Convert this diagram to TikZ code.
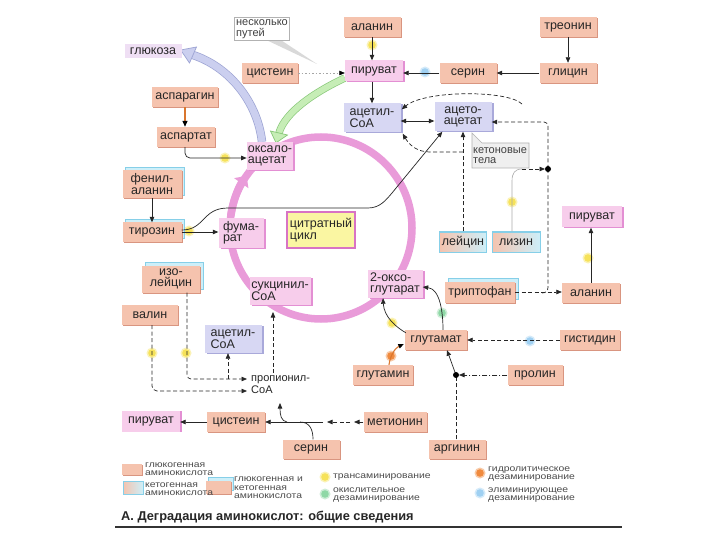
\documentclass[tikz,border=0pt]{standalone}
\usepackage{fontspec}
\setmainfont{Liberation Sans}
\newfontfamily\legfont[FakeStretch=1.18]{Liberation Sans}
\usetikzlibrary{arrows.meta,shadows,calc,backgrounds}
\definecolor{salm}{HTML}{F5C3AE}
\definecolor{salmD}{HTML}{D99580}
\definecolor{pinkL}{HTML}{F7CDEB}
\definecolor{pinkD}{HTML}{E38FD3}
\definecolor{lav}{HTML}{D7D7F3}
\definecolor{lavD}{HTML}{A9A9DA}
\definecolor{cyanL}{HTML}{CDEFF9}
\definecolor{cyanD}{HTML}{86CFE8}
\definecolor{cycC}{HTML}{E99BD9}
\definecolor{citY}{HTML}{FAF6A2}
\definecolor{citB}{HTML}{D873C4}
\definecolor{glucL}{HTML}{CBCFEF}
\definecolor{glucD}{HTML}{9CA3D3}
\definecolor{grnL}{HTML}{C6EDB6}
\definecolor{grnD}{HTML}{88C879}
\definecolor{dotY}{HTML}{F6E25A}
\definecolor{dotG}{HTML}{8FD8A6}
\definecolor{dotO}{HTML}{F08A3E}
\definecolor{dotB}{HTML}{9FD0F2}
\definecolor{orgA}{HTML}{D9762E}
\definecolor{callF}{HTML}{EFEFEF}
\newcommand\bxf{\fontsize{12.5}{11.5}\selectfont}
\newcommand\smf{\fontsize{11}{10.5}\selectfont}
\newcommand\prf{\fontsize{11}{12}\selectfont}
\newcommand\lgf{\legfont\fontsize{8.8}{8.6}\selectfont}
\newcommand\ttlf{\fontsize{12.8}{13}\selectfont\bfseries}
\tikzset{
  bx/.style={inner sep=1pt, minimum height=20pt, font=\bxf, align=center, text=black!85},
  glc/.style={bx, fill=salm, drop shadow={shadow xshift=1.3pt, shadow yshift=-1.3pt, fill=salmD, opacity=1}},
  pnk/.style={bx, fill=pinkL, drop shadow={shadow xshift=2pt, shadow yshift=-0.6pt, fill=pinkD, opacity=1}},
  lvd/.style={bx, fill=lav, drop shadow={shadow xshift=2pt, shadow yshift=-0.8pt, fill=lavD, opacity=1}},
  gk/.style={bx, fill=salm, copy shadow={shadow xshift=3pt, shadow yshift=3pt, fill=cyanL, draw=cyanD, line width=0.8pt}, drop shadow={shadow xshift=1.3pt, shadow yshift=-1.3pt, fill=salmD, opacity=1}},
  ktg/.style={bx, left color=salm, right color=cyanL, draw=cyanD, line width=1pt},
  cal/.style={inner sep=1.5pt, font=\smf, align=left, text=black!75, fill=white, draw=gray!60, line width=0.6pt},
  ln/.style={line width=0.7pt, black!85},
  dsh/.style={ln, dash pattern=on 4pt off 2.5pt},
  dshdot/.style={ln, dash pattern=on 5pt off 2pt on 1pt off 2pt},
  dotl/.style={line width=0.6pt, gray!70, dash pattern=on 1.5pt off 2pt},
  lgt/.style={font=\lgf, align=left, anchor=west, inner sep=0pt, text=black!70},
  blk/.style={-{Triangle[length=5.5pt,width=4.5pt,color=black]}}
}
\begin{document}
\begin{tikzpicture}[x=1pt,y=-1pt,>={Triangle[length=5.5pt,width=4.5pt]}]
\useasboundingbox (0,0) rectangle (720,540);
% ---------- nodes
\node[cal, minimum width=54pt, minimum height=23pt] (nesk) at (262,29) {несколько\\путей};
\node[glc, minimum width=57pt] (alaT) at (372,27) {аланин};
\node[glc, minimum width=57pt] (treo) at (568,27) {треонин};
\node[bx, fill=pinkL!55!lav!70!white, minimum width=57pt, minimum height=14pt] (gluc) at (153,51) {глюкоза};
\node[glc, minimum width=56pt] (cysT) at (270,73) {цистеин};
\node[pnk, minimum width=58pt, minimum height=21pt] (pyrT) at (374,71) {пируват};
\node[glc, minimum width=57pt] (serT) at (468,73) {серин};
\node[glc, minimum width=57pt] (gly) at (568,73) {глицин};
\node[glc, minimum width=66pt] (asn) at (185,97) {аспарагин};
\node[lvd, align=left, minimum width=57pt, minimum height=29pt] (acCoA) at (372,118) {ацетил-\\CoA};
\node[lvd, minimum width=57pt, minimum height=29pt] (acac) at (463,117) {ацето-\\ацетат};
\node[glc, minimum width=58pt] (asp) at (186,137) {аспартат};
\node[pnk, align=left, minimum width=46pt, minimum height=28pt] (oxa) at (270,156) {оксало-\\ацетат};
\filldraw[fill=callF, draw=gray!60, line width=0.6pt] (472,133) -- (482,143) -- (529,143) -- (529,168) -- (472,168) -- cycle;
\node[font=\smf, align=left, text=black!75, inner sep=0pt] (keto) at (500,155.5) {кетоновые\\тела};
\node[gk, minimum width=59pt, minimum height=28pt] (phe) at (152,184) {фенил-\\аланин};
\node[gk, minimum width=59pt, minimum height=19pt] (tyr) at (152,232) {тирозин};
\node[pnk, align=left, minimum width=45pt, minimum height=30pt] (fum) at (241,233) {фума-\\рат};
\node[bx, fill=citY, draw=citB, line width=1.2pt, align=left, minimum width=68pt, minimum height=36pt] (cit) at (321,230) {цитратный\\цикл};
\node[pnk, minimum width=60pt, minimum height=21pt] (pyrR) at (592,217) {пируват};
\node[ktg, minimum width=47pt] (leu) at (463,242) {лейцин};
\node[ktg, minimum width=48pt] (lys) at (516,242) {лизин};
\node[gk, minimum width=58pt, minimum height=27pt] (ile) at (171,279) {изо-\\лейцин};
\node[pnk, align=left, minimum width=61pt, minimum height=28pt] (suc) at (280,291) {сукцинил-\\CoA};
\node[pnk, align=left, minimum width=55pt, minimum height=28pt] (oxg) at (395,284) {2-оксо-\\глутарат};
\node[gk, minimum width=70pt, minimum height=21pt] (trp) at (480,292) {триптофан};
\node[glc, minimum width=58pt] (alaR) at (591,293) {аланин};
\node[glc, minimum width=56pt] (val) at (150,315) {валин};
\node[lvd, align=left, minimum width=57pt, minimum height=28pt] (acCoA2) at (233,339) {ацетил-\\CoA};
\node[glc, minimum width=62pt] (glu) at (436,340) {глутамат};
\node[glc, minimum width=60pt] (his) at (590,340) {гистидин};
\node[glc, minimum width=60pt] (gln) at (383,375) {глутамин};
\node[glc, minimum width=55pt] (pro) at (535,375) {пролин};
\node[font=\prf, align=left, anchor=west, inner sep=1pt, text=black!85] (prop) at (250,385) {пропионил-\\CoA};
\node[pnk, minimum width=58pt, minimum height=21pt] (pyrB) at (151,421) {пируват};
\node[glc, minimum width=58pt] (cysB) at (236,422) {цистеин};
\node[glc, minimum width=63pt] (met) at (395,422) {метионин};
\node[glc, minimum width=57pt, minimum height=19pt] (serB) at (311,449) {серин};
\node[glc, minimum width=57pt, minimum height=19pt] (arg) at (457,449) {аргинин};
\coordinate (dot1) at (548,169);
\coordinate (dot2) at (456,375);
% ---------- background: circle, dots, bands
\begin{pgfonlayer}{background}
\fill[white] (0,0) rectangle (720,540);
\fill[gray!30] ($(nesk.south)+(6,0)$) -- ($(nesk.south)+(20,0)$) -- (317,64) -- cycle;
\draw[cycC, line width=7.5pt] (321,228) circle[radius=91];
\draw[cycC, line width=7.5pt, -{Triangle[length=9pt,width=17pt]}] (321,228) ++(-172:91) arc[start angle=-172, end angle=-145, radius=91];
\foreach \x/\y in {372/45, 225/158, 189/231, 512/202, 588/258, 392/323, 186/353, 152/353, 325/477}
  {\fill[dotY!45] (\x,\y) circle[radius=5.5pt]; \fill[dotY] (\x,\y) circle[radius=3.8pt];}
\foreach \x/\y in {442/313, 325/494}
  {\fill[dotG!45] (\x,\y) circle[radius=5.5pt]; \fill[dotG] (\x,\y) circle[radius=3.8pt];}
\foreach \x/\y in {425/72, 530/341, 480/493}
  {\fill[dotB!45] (\x,\y) circle[radius=5.5pt]; \fill[dotB] (\x,\y) circle[radius=3.8pt];}
\foreach \x/\y in {391/356, 480/473}
  {\fill[dotO!45] (\x,\y) circle[radius=5.5pt]; \fill[dotO] (\x,\y) circle[radius=3.8pt];}
% glucose band
\draw[draw=glucD, double=glucL, double distance=7pt, line width=0.7pt] ($(oxa.north)+(-8,0)$) .. controls (258,105) and (232,68) .. (193,55);
\filldraw[fill=glucL, draw=glucD, line width=0.7pt] (196.5,47) -- ($(gluc.east)+(-1,-1)$) -- (189.5,63) -- cycle;
% green band
\draw[draw=grnD, double=grnL, double distance=6pt, line width=0.7pt] ($(pyrT.west)+(0,7)$) .. controls (315,92) and (285,112) .. (279,133);
\filldraw[fill=grnL, draw=grnD, line width=0.7pt] (287.5,135) -- ($(oxa.north)+(6,1)$) -- (270.5,131) -- cycle;
\end{pgfonlayer}
% ---------- connectors
\draw[ln,->] (alaT.south) -- (alaT.south |- pyrT.north);
\draw[ln,->] (treo) -- (gly);
\draw[ln,->] (gly) -- (serT);
\draw[ln,->] (serT.west) -- (serT.west -| pyrT.east);
\draw[dotl,blk] (cysT.east) -- (cysT.east -| pyrT.west);
\draw[ln,->] (acCoA.north |- pyrT.south) -- (acCoA.north);
\draw[ln,<->] ($(acCoA.east)+(0,3)$) -- ($(acac.west)+(0,4)$);
\draw[orgA, line width=1.3pt, -{Triangle[length=6pt,width=5pt,color=black]}] (asn.south) -- (asn.south |- asp.north);
\draw[ln,->,rounded corners=5pt] ($(asp.south)+(-1,0)$) |- ($(oxa.west)+(0,2)$);
\draw[ln,->] (phe) -- (tyr);
\draw[ln,->] (tyr.east) -- (tyr.east -| fum.west);
\draw[ln,->] ($(tyr.east)+(0,-2)$) .. controls (205,230) and (202,208) .. (228,208) -- (368,208) .. controls (380,208) and (386,200) .. (392,193) -- ($(acac.south west)+(8,0)$);
% isoleucine, valine -> propionyl-CoA
\coordinate (i1) at ($(ile.south)+(16,0)$);
\coordinate (pA) at (247,379);
\coordinate (pB) at (247,391);
\coordinate (i3) at (228,379);
\draw[dsh,->,rounded corners=4pt] (i1) |- (pA);
\draw[dsh,->] (i3) -- (i3 |- acCoA2.south);
\draw[dsh,->,rounded corners=5pt] ($(val.south)+(2,0)$) |- (pB);
\coordinate (s1) at (273,373);
\coordinate (s2) at (273,312);
\draw[dsh,->] (s1) -- (s2);
% methionine, serine -> cysteine -> pyruvate
\coordinate (m1) at (354,422);
\coordinate (m2) at (350,422);
\coordinate (m3) at (327,422);
\coordinate (m4) at (323,422);
\draw[dsh,->] (met.west) -- (m1);
\draw[dsh,->] (m2) -- (m3);
\draw[ln,->] (m4) -- (cysB.east);
\draw[ln] ($(serB.north)+(2,0)$) .. controls (313,430) and (310,422) .. (300,422);
\draw[ln,->] (287,422) .. controls (281,421) and (280,415) .. (280,403);
\draw[ln,->] (cysB.west) -- (cysB.west -| pyrB.east);
% glutamate region
\draw[orgA, line width=1.1pt, blk] ($(gln.north)+(6,0)$) .. controls (390,356) and (395,348) .. ($(glu.west)+(-1,4)$);
\draw[ln,->] ($(glu.north)+(7,0)$) .. controls (443,312) and (440,289) .. ($(oxg.east)+(0,3)$);
\draw[ln,->] ($(glu.north west)+(1,3)$) .. controls (396,327) and (384,317) .. ($(oxg.south)+(-12,0)$);
\draw[dsh,->] (his.west) -- (glu.east);
\draw[dshdot,->,shorten >=3pt] (pro.west) -- (dot2);
\draw[dsh] (arg.north -| dot2) -- (dot2);
\draw[ln,->] (dot2) -- ($(glu.south)+(11,0)$);
\fill (dot2) circle[radius=3pt];
% right side
\draw[ln,->] (alaR.north) -- (alaR.north |- pyrR.south);
\draw[dsh,->] (trp.east) -- (trp.east -| alaR.west);
\draw[dsh] (dot1) -- (548,287) .. controls (548,291) and (546,293) .. (542,293);
\draw[gray!65, line width=0.6pt] ($(lys.north)+(-4,0)$) -- (512,181) .. controls (512,173) and (515,169) .. (522,169);
\draw[dsh,->,shorten >=3pt] (522,169) -- (dot1);
\draw[dsh,->,rounded corners=4pt] (dot1) |- ($(acac.east)+(0,5)$);
\fill (dot1) circle[radius=3pt];
\draw[dsh,->] (522,104) .. controls (508,90) and (425,90) .. ($(acCoA.north east)+(1,6)$);
\draw[dsh,->] (leu.north) -- (leu.north |- acac.south);
\coordinate (lb) at (463,152);
\draw[dsh,->] (lb) -- (430,152) .. controls (418,152) and (410,146) .. ($(acCoA.south east)+(2,1)$);
% ---------- legend
\node[glc, minimum width=20pt, minimum height=11pt, inner sep=0pt] (lg1) at (132,469) {};
\node[ktg, minimum width=20pt, minimum height=13pt, inner sep=0pt] (lg2) at (133,488) {};
\node[gk, minimum width=25pt, minimum height=13pt, inner sep=0pt] (lg3) at (218,487) {};
\node[lgt] (lt1) at (145,469) {глюкогенная\\аминокислота};
\node[lgt] (lt2) at (145,489) {кетогенная\\аминокислота};
\node[lgt] (lt3) at (234,488) {глюкогенная и\\кетогенная\\аминокислота};
\node[lgt] (lt4) at (333,477) {трансаминирование};
\node[lgt] (lt5) at (333,495) {окислительное\\дезаминирование};
\node[lgt] (lt6) at (488,474) {гидролитическое\\дезаминирование};
\node[lgt] (lt7) at (488,495) {элиминирующее\\дезаминирование};
\node[font=\ttlf, anchor=west, inner sep=0pt, text=black!85] (ttl) at (121,517) {А. Деградация аминокислот: общие сведения};
\coordinate (r1) at (115,527);
\coordinate (r2) at (622,527);
\draw[line width=1.3pt, black!80] (r1) -- (r2);
\end{tikzpicture}
\end{document}
